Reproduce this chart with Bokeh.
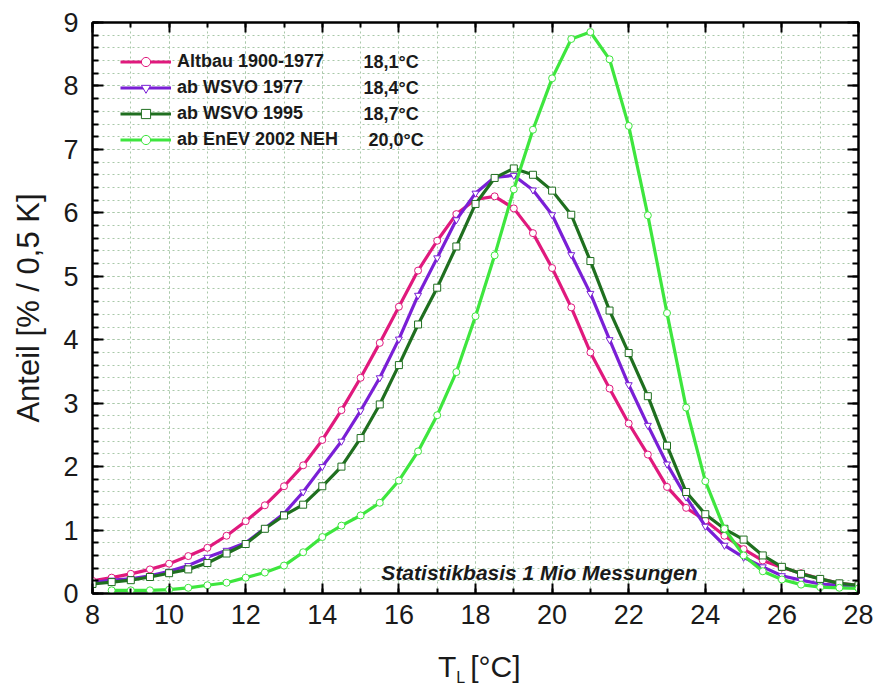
from bokeh.plotting import figure
from bokeh.models import (ColumnDataSource, Range1d, SingleIntervalTicker, LinearAxis,
                          Legend, LegendItem, Label, Grid, Div)
from bokeh.layouts import column
from bokeh.embed import file_html
from bokeh.resources import INLINE

# ---------------- data ----------------
temps = [8.0, 8.5, 9.0, 9.5, 10.0, 10.5, 11.0, 11.5, 12.0, 12.5, 13.0, 13.5, 14.0, 14.5,
         15.0, 15.5, 16.0, 16.5, 17.0, 17.5, 18.0, 18.5, 19.0, 19.5, 20.0, 20.5, 21.0,
         21.5, 22.0, 22.5, 23.0, 23.5, 24.0, 24.5, 25.0, 25.5, 26.0, 26.5, 27.0, 27.5, 28.0]

altbau = [0.20, 0.25, 0.31, 0.38, 0.47, 0.59, 0.72, 0.91, 1.14, 1.39, 1.69, 2.02, 2.42, 2.89,
          3.40, 3.95, 4.52, 5.09, 5.56, 5.98, 6.21, 6.26, 6.07, 5.68, 5.13, 4.51, 3.80,
          3.23, 2.68, 2.19, 1.68, 1.35, 1.15, 0.91, 0.70, 0.52, 0.41, 0.32, 0.23, 0.16, 0.13]

wsvo1977 = [0.17, 0.21, 0.23, 0.28, 0.35, 0.44, 0.57, 0.68, 0.80, 1.03, 1.26, 1.60, 2.00, 2.40,
            2.88, 3.40, 4.01, 4.70, 5.29, 5.89, 6.31, 6.56, 6.59, 6.36, 5.97, 5.34, 4.73,
            4.00, 3.29, 2.65, 2.04, 1.52, 1.06, 0.76, 0.57, 0.42, 0.28, 0.21, 0.15, 0.13, 0.10]

wsvo1995 = [0.15, 0.18, 0.21, 0.26, 0.32, 0.38, 0.48, 0.63, 0.78, 1.02, 1.23, 1.40, 1.69, 2.00,
            2.45, 2.98, 3.60, 4.24, 4.82, 5.47, 6.14, 6.55, 6.70, 6.60, 6.35, 5.97, 5.24,
            4.46, 3.79, 3.11, 2.33, 1.60, 1.25, 1.02, 0.85, 0.60, 0.42, 0.31, 0.23, 0.16, 0.13]

temps_enev = [8.5, 9.0, 9.5, 10.0, 10.5, 11.0, 11.5, 12.0, 12.5, 13.0, 13.5, 14.0, 14.5,
              15.0, 15.5, 16.0, 16.5, 17.0, 17.5, 18.0, 18.5, 19.0, 19.5, 20.0, 20.5, 21.0,
              21.5, 22.0, 22.5, 23.0, 23.5, 24.0, 24.5, 25.0, 25.5, 26.0, 26.5, 27.0, 27.5, 28.0]

enev2002 = [0.05, 0.05, 0.05, 0.06, 0.09, 0.13, 0.17, 0.25, 0.33, 0.44, 0.65, 0.89, 1.07,
            1.23, 1.43, 1.78, 2.24, 2.81, 3.49, 4.37, 5.33, 6.37, 7.31, 8.12, 8.74, 8.85,
            8.42, 7.37, 5.96, 4.42, 2.93, 1.77, 1.02, 0.60, 0.35, 0.22, 0.14, 0.10, 0.09, 0.08]

series_names = ["Altbau 1900-1977", "ab WSVO 1977", "ab WSVO 1995", "ab EnEV 2002 NEH"]
series_means = ["18,1°C", "18,4°C", "18,7°C", "20,0°C"]

x_ticks = [8, 10, 12, 14, 16, 18, 20, 22, 24, 26, 28]
y_ticks = [0, 1, 2, 3, 4, 5, 6, 7, 8, 9]

# ---------------- styling ----------------
FONT = "Liberation Sans"
TXT = "#1a1a1a"
colors = ["#e0197d", "#7a1fd6", "#1f6f1f", "#3ee63e"]
markers = ["circle", "inverted_triangle", "square", "circle"]

FIG_H = 650
p = figure(width=875, height=FIG_H, x_range=Range1d(8, 28), y_range=Range1d(0, 9),
           output_backend="svg", toolbar_location=None,
           x_axis_type=None, y_axis_type=None,
           min_border_left=92, min_border_right=17, min_border_top=22,
           min_border_bottom=FIG_H - 593)
p.outline_line_color = "black"
p.outline_line_width = 2
p.background_fill_color = "white"
p.border_fill_color = "white"

xt = SingleIntervalTicker(interval=2, num_minor_ticks=2)
yt = SingleIntervalTicker(interval=1, num_minor_ticks=5)

grid_style = dict(grid_line_color="#a9c8a9", grid_line_dash="2 3", grid_line_width=1,
                  minor_grid_line_color="#a9c8a9", minor_grid_line_dash="2 3",
                  minor_grid_line_width=1)
p.add_layout(Grid(dimension=0, ticker=xt, **grid_style))
p.add_layout(Grid(dimension=1, ticker=yt, **grid_style))


def axis(ticker, tick_values, show_labels, major_len, minor_len):
    a = LinearAxis(ticker=ticker, major_tick_in=major_len, major_tick_out=0,
                   minor_tick_in=minor_len, minor_tick_out=0,
                   axis_line_color="black", axis_line_width=2,
                   major_tick_line_color="black", major_tick_line_width=2,
                   minor_tick_line_color="black", minor_tick_line_width=2)
    if show_labels:
        a.major_label_text_font = FONT
        a.major_label_text_font_size = "27px"
        a.major_label_text_color = TXT
        a.major_label_overrides = {v: str(v) for v in tick_values}
    else:
        a.major_label_overrides = {v: "" for v in tick_values}
        a.major_label_standoff = 0
    return a


xb = axis(xt, x_ticks, True, 10, 5)
xb.major_label_standoff = 11
p.add_layout(xb, "below")
p.add_layout(axis(xt, x_ticks, False, 10, 5), "above")

yl = axis(yt, y_ticks, True, 11, 6)
yl.major_label_standoff = 14
yl.axis_label = "Anteil [% / 0,5 K]"
yl.axis_label_text_font = FONT
yl.axis_label_text_font_size = "31px"
yl.axis_label_text_font_style = "normal"
yl.axis_label_text_color = TXT
yl.axis_label_standoff = 14
p.add_layout(yl, "left")
p.add_layout(axis(yt, y_ticks, False, 11, 6), "right")

# ---------------- curves ----------------
xs_list = [temps, temps, temps, temps_enev]
ys_list = [altbau, wsvo1977, wsvo1995, enev2002]
items = []
for name, xs, ys, c, m in zip(series_names, xs_list, ys_list, colors, markers):
    src = ColumnDataSource(dict(x=xs, y=ys))
    lr = p.line("x", "y", source=src, line_color=c, line_width=3.2)
    sr = p.scatter("x", "y", source=src, marker=m, size=7, fill_color="white",
                   line_color=c, line_width=1)
    items.append(LegendItem(label=name, renderers=[lr, sr]))

legend = Legend(items=items, location="top_left", margin=28, padding=0,
                glyph_width=51, glyph_height=23, label_height=23, spacing=3,
                label_standoff=6, label_text_font=FONT, label_text_font_size="18px",
                label_text_font_style="bold", label_text_color=TXT,
                background_fill_alpha=0, border_line_alpha=0)
p.add_layout(legend)

# mean temperatures beside legend entries (screen px relative to frame)
frame_left, frame_bottom = 92, 593
row_y = [61.5, 87.5, 113.5, 139.5]
row_x = [363, 363, 363, 368]
for txt, ry, rx in zip(series_means, row_y, row_x):
    p.add_layout(Label(x=rx - frame_left, y=frame_bottom - ry, x_units="screen", y_units="screen",
                       text=txt, text_font=FONT, text_font_size="18px", text_font_style="bold",
                       text_color=TXT, text_baseline="middle", text_align="left"))

p.add_layout(Label(x=539 - frame_left, y=frame_bottom - 572, x_units="screen", y_units="screen",
                   text="Statistikbasis 1 Mio Messungen", text_font=FONT, text_font_size="21px",
                   text_font_style="bold italic", text_color=TXT, text_align="center",
                   text_baseline="alphabetic"))

# x axis label T_L [°C] (HTML so the subscript is real text)
xlabel_html = (
    '<div style="position:absolute;left:433px;top:-3px;white-space:nowrap;'
    'font-family:\'Liberation Sans\';font-size:30px;line-height:30px;color:#1a1a1a;">'
    'T<span style="font-size:16px;vertical-align:-6px;">L</span>'
    '<span style="margin-left:5px;">[°C]</span></div>'
)
xlabel = Div(text=xlabel_html, width=875, height=691 - FIG_H,
             styles={"position": "relative", "overflow": "visible", "background": "white"})

layout = column(p, xlabel, spacing=0)
open("out.html", "w").write(file_html(layout, INLINE))
